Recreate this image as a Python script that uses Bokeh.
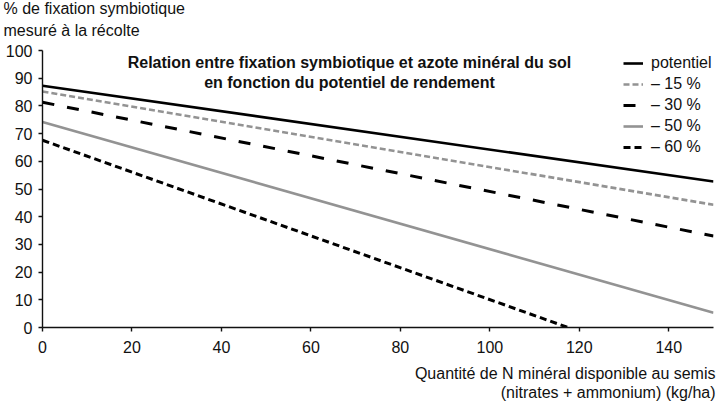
from bokeh.plotting import figure
from bokeh.models import Label, Legend, LegendItem, FixedTicker, Range1d, Title
from bokeh.embed import file_html
from bokeh.resources import INLINE

# Data
series = ["potentiel", "– 15 %", "– 30 %", "– 50 %", "– 60 %"]
x_start = [0, 0, 0, 0, 0]
x_end = [150, 150, 150, 150, 117.5]
y_start = [87.3, 85.2, 81.3, 74.2, 67.6]
y_end = [52.7, 44.3, 33.0, 5.3, 0.0]
colors = ["#000000", "#939393", "#000000", "#939393", "#000000"]
dashes = ["solid", "6 3", "12 13", "solid", "7 4"]
widths = [2.6, 2.6, 3.0, 2.6, 3.0]

x_ticks = [0, 20, 40, 60, 80, 100, 120, 140]
y_ticks = [0, 10, 20, 30, 40, 50, 60, 70, 80, 90, 100]

title_lines = ["Relation entre fixation symbiotique et azote minéral du sol",
               "en fonction du potentiel de rendement"]
y_title = ["% de fixation symbiotique", "mesuré à la récolte"]
x_title = ["Quantité de N minéral disponible au semis",
           "(nitrates + ammonium) (kg/ha)"]

FONT = "Liberation Sans"
FS = "16px"
INK = "#111111"

p = figure(width=717, height=401, output_backend="svg", toolbar_location=None,
           x_range=Range1d(0, 150), y_range=Range1d(0, 100),
           min_border_left=42, min_border_right=4, min_border_top=50,
           min_border_bottom=74)
p.outline_line_color = None
p.xgrid.visible = False
p.ygrid.visible = False
p.background_fill_color = "white"
p.border_fill_color = "white"

for ax in (p.xaxis[0], p.yaxis[0]):
    ax.axis_line_color = INK
    ax.axis_line_width = 1.4
    ax.major_tick_line_color = INK
    ax.major_tick_line_width = 1.4
    ax.major_tick_in = 0
    ax.major_tick_out = 4
    ax.minor_tick_line_color = None
    ax.major_label_text_font = FONT
    ax.major_label_text_font_size = FS
    ax.major_label_text_color = INK
p.xaxis.ticker = FixedTicker(ticks=x_ticks)
p.yaxis.ticker = FixedTicker(ticks=y_ticks)
p.xaxis.major_label_standoff = 9
p.yaxis.major_label_standoff = 6

items = []
for i, name in enumerate(series):
    r = p.line([x_start[i], x_end[i]], [y_start[i], y_end[i]],
               line_color=colors[i], line_width=widths[i], line_dash=dashes[i])
    items.append(LegendItem(label=name, renderers=[r]))

legend = Legend(items=items, location=(581, 171), padding=0, margin=0,
                border_line_color=None, background_fill_alpha=0,
                glyph_width=20, glyph_height=18, label_height=18, spacing=3,
                label_standoff=8, label_text_font=FONT,
                label_text_font_size=FS, label_text_color=INK)
p.add_layout(legend, "center")

# Chart title (inside the plot area)
for txt, yy in zip(title_lines, [265, 245]):
    p.add_layout(Label(x=307, y=yy, x_units="screen", y_units="screen", text=txt,
                       text_font=FONT, text_font_size=FS, text_font_style="bold",
                       text_align="center", text_baseline="middle",
                       text_color=INK))

# Y axis title (above the plot, two lines; later additions sit further out)
for txt, so in zip(reversed(y_title), [24, -18]):
    p.add_layout(Title(text=txt, align="left", offset=-39, standoff=so,
                       text_font=FONT, text_font_size=FS,
                       text_font_style="normal", text_color=INK), "above")

# X axis title (below, right aligned)
for txt, so in zip(x_title, [14, -14]):
    p.add_layout(Title(text=txt, align="right", offset=-2, standoff=so,
                       text_font=FONT, text_font_size=FS,
                       text_font_style="normal", text_color=INK), "below")

open("out.html", "w").write(file_html(p, INLINE))
